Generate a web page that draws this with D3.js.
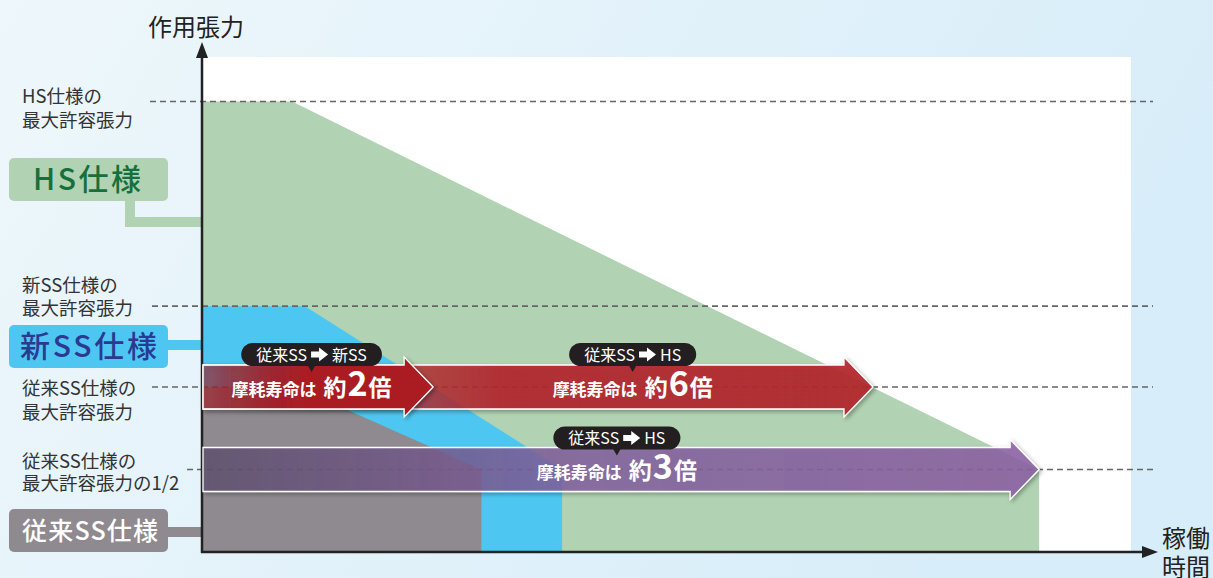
<!DOCTYPE html>
<html><head><meta charset="utf-8">
<script src="https://cdn.jsdelivr.net/npm/d3@7"></script>
<style>
html,body{margin:0;padding:0;background:#e6f3fa;}
svg{display:block;font-family:"Noto Sans CJK JP","Noto Sans",sans-serif;}
</style></head>
<body>
<svg id="chart" width="1213" height="578"></svg>
<script>
// ---- data ----
const specNames = ["HS仕様", "新SS仕様", "従来SS仕様"];
const maxTension = [2.73, 1.49, 1.0];      // max allowable tension (relative)
const declineStart = [9.6, 11.0, 10.0];    // time where tension starts to drop
const lifeEnd = [90.1, 38.7, 30.0];        // time where tension reaches half of old SS max
const halfLevel = 0.5;

const refLevels = [2.73, 1.49, 1.0, 0.5];
const refLabels = [
  ["HS仕様の", "最大許容張力"],
  ["新SS仕様の", "最大許容張力"],
  ["従来SS仕様の", "最大許容張力"],
  ["従来SS仕様の", "最大許容張力の1/2"]
];

const arrowFrom = ["従来SS", "従来SS", "従来SS"];
const arrowTo = ["HS", "新SS", "HS"];
const arrowLevel = [1.0, 1.0, 0.5];
const arrowEnd = [72.2, 24.8, 90.1];
const arrowFactor = ["6", "2", "3"];
const arrowLabelAt = [46.3, 11.7, 44.6];

const yAxisTitle = "作用張力";
const xAxisTitle = ["稼働", "時間"];

// ---- layout / scales ----
const svg = d3.select("#chart");
const x = d3.scaleLinear().domain([0, 100]).range([203, 1131]);
const y = d3.scaleLinear().domain([0, 3]).range([552, 57]);

const specFill = ["#b1d3b3", "#4dc7f1", "#8e8a8f"];
const boxText = ["#17703c", "#2b3990", "#ffffff"];

const defs = svg.append("defs");
const bg = defs.append("linearGradient").attr("id", "bg").attr("x1", "0").attr("y1", "0").attr("x2", "1").attr("y2", "0.3");
bg.append("stop").attr("offset", "0").attr("stop-color", "#eef7fb");
bg.append("stop").attr("offset", "1").attr("stop-color", "#d7edf9");

const grads = [
  {id: "red0", stops: [[0, "#b5272e", 0.35], [0.45, "#b3262d", 0.9], [1, "#b3262d", 0.92]]},
  {id: "red1", stops: [[0, "#a51d24", 0.3], [0.45, "#aa1b23", 1], [1, "#aa1b23", 1]]},
  {id: "pur2", stops: [[0, "#5f5070", 0.75], [0.45, "#8460a0", 0.82], [1, "#8d62a5", 0.85]]}
];
grads.forEach(g => {
  const lg = defs.append("linearGradient").attr("id", g.id).attr("x1", "0").attr("x2", "1").attr("y1", "0").attr("y2", "0");
  g.stops.forEach(s => lg.append("stop").attr("offset", s[0]).attr("stop-color", s[1]).attr("stop-opacity", s[2]));
});
const f = defs.append("filter").attr("id", "sh").attr("x", "-5%").attr("y", "-30%").attr("width", "110%").attr("height", "160%");
f.append("feDropShadow").attr("dx", 2).attr("dy", 2).attr("stdDeviation", 2).attr("flood-color", "#000").attr("flood-opacity", 0.35);

// background
svg.append("rect").attr("width", 1213).attr("height", 578).attr("fill", "url(#bg)");
// plot area
svg.append("rect").attr("x", x(0)).attr("y", y(3)).attr("width", x(100) - x(0)).attr("height", y(0) - y(3)).attr("fill", "#ffffff");

// spec areas
const areaGen = d3.line().x(d => x(d[0])).y(d => y(d[1]));
specNames.forEach((s, i) => {
  const pts = [[0, 0], [0, maxTension[i]], [declineStart[i], maxTension[i]], [lifeEnd[i], halfLevel], [lifeEnd[i], 0]];
  svg.append("path").attr("d", areaGen(pts) + "Z").attr("fill", specFill[i]);
});

// reference dashed lines + labels
const refStart = [150, 152, 152, 187];
refLevels.forEach((lv, i) => {
  svg.append("line").attr("x1", refStart[i]).attr("x2", 1153).attr("y1", y(lv)).attr("y2", y(lv))
    .attr("stroke", "#666").attr("stroke-width", 1.6).attr("stroke-dasharray", "6,4");
  const t = svg.append("text").attr("x", 22).attr("font-size", 18.5).attr("fill", "#333");
  const yc = y(lv);
  const offs = i === 3 ? [-9, 13] : (i === 0 ? [-6, 18] : (i === 1 ? [-21, 2] : [1, 25]));
  refLabels[i].forEach((l, j) => {
    t.append("tspan").attr("x", 22).attr("y", yc + offs[j] + 7).text(l);
  });
});

// spec boxes with connectors
const boxY = [158, 325, 509];
specNames.forEach((s, i) => {
  const by = boxY[i], bh = 43;
  if (i === 0) {
    svg.append("path").attr("d", `M130,${by + bh - 2}V222H${x(0)}`).attr("fill", "none")
      .attr("stroke", specFill[i]).attr("stroke-width", 10);
  } else {
    const cy = i === 1 ? 345 : 532;
    svg.append("line").attr("x1", 160).attr("x2", x(0)).attr("y1", cy).attr("y2", cy)
      .attr("stroke", specFill[i]).attr("stroke-width", 10);
  }
  svg.append("rect").attr("x", 9).attr("y", by).attr("width", 159).attr("height", bh).attr("rx", 5).attr("fill", specFill[i]);
  const tw = [108, 137, 136][i];
  const tx = [33, 20, 22][i];
  const fs = [30, 30, 25][i];
  svg.append("text").attr("x", tx).attr("y", by + bh / 2 + fs * 0.36).attr("font-size", fs).attr("font-weight", 500)
    .attr("fill", boxText[i]).attr("textLength", tw).attr("lengthAdjust", "spacing").text(s);
});

// axes
const axisG = svg.append("g");
axisG.append("line").attr("x1", x(0) - 1).attr("x2", x(0) - 1).attr("y1", y(0) + 1).attr("y2", 52)
  .attr("stroke", "#222").attr("stroke-width", 2.5);
axisG.append("path").attr("d", `M${x(0) - 1},42L${x(0) - 7},58L${x(0) + 5},58Z`).attr("fill", "#222");
axisG.append("line").attr("x1", x(0) - 2).attr("x2", 1148).attr("y1", y(0)).attr("y2", y(0))
  .attr("stroke", "#222").attr("stroke-width", 2.5);
axisG.append("path").attr("d", `M1158,${y(0)}L1142,${y(0) - 6}L1142,${y(0) + 6}Z`).attr("fill", "#222");

svg.append("text").attr("x", 148).attr("y", 36).attr("font-size", 24).attr("fill", "#222").text(yAxisTitle);
xAxisTitle.forEach((t, j) => {
  svg.append("text").attr("x", 1162).attr("y", 547 + j * 29).attr("font-size", 24).attr("fill", "#222").text(t);
});

// arrows
const bodyH = 22, headH = 30, headL = 29;
const fills = ["url(#red0)", "url(#red1)", "url(#pur2)"];
arrowLevel.forEach((lv, i) => {
  const x0 = x(0), x1 = x(arrowEnd[i]), yc = y(lv);
  const d = `M${x0},${yc - bodyH}H${x1 - headL}V${yc - headH}L${x1},${yc}L${x1 - headL},${yc + headH}V${yc + bodyH}H${x0}Z`;
  svg.append("path").attr("d", d).attr("fill", fills[i]).attr("stroke", "#ffffff").attr("stroke-width", 1.3)
    .attr("filter", "url(#sh)");
});

// arrow labels + badges
arrowLevel.forEach((lv, i) => {
  const cx = x(arrowLabelAt[i]), yc = y(lv);
  const t = svg.append("text").attr("x", cx).attr("y", yc + 9).attr("text-anchor", "middle")
    .attr("fill", "#fff").attr("font-weight", 700);
  t.append("tspan").attr("font-size", 17).text("摩耗寿命は");
  t.append("tspan").attr("font-size", 23).attr("dx", 7).text("約");
  t.append("tspan").attr("font-size", 34).attr("dx", 1).text(arrowFactor[i]);
  t.append("tspan").attr("font-size", 23).attr("dx", 1).text("倍");

  // badge
  const g = svg.append("g");
  const by = yc - 44 + (i === 2 ? 1 : 0);
  const bh = 23;
  const rect = g.append("rect");
  const ptr = g.append("path");
  const a = g.append("text").attr("font-size", 16).attr("fill", "#fff").attr("y", by + bh / 2 + 6).text(arrowFrom[i]);
  const b = g.append("text").attr("font-size", 16).attr("fill", "#fff").attr("y", by + bh / 2 + 6).text(arrowTo[i]);
  const wa = a.node().getComputedTextLength(), wb = b.node().getComputedTextLength();
  const arrowW = 17, gap = 4;
  const total = wa + gap + arrowW + gap + wb;
  const left = cx - total / 2;
  a.attr("x", left);
  const ax = left + wa + gap, ay = by + bh / 2;
  g.append("path").attr("d", `M${ax},${ay - 3}H${ax + 8}V${ay - 7}L${ax + arrowW},${ay}L${ax + 8},${ay + 7}V${ay + 3}H${ax}Z`).attr("fill", "#fff");
  b.attr("x", ax + arrowW + gap);
  const pad = 15;
  rect.attr("x", left - pad).attr("y", by).attr("width", total + 2 * pad).attr("height", bh).attr("rx", 11.5).attr("fill", "#231f20");
  ptr.attr("d", `M${cx - 4},${by + bh - 1}L${cx + 4},${by + bh - 1}L${cx},${by + bh + 6}Z`).attr("fill", "#231f20");
});
</script>
</body></html>
